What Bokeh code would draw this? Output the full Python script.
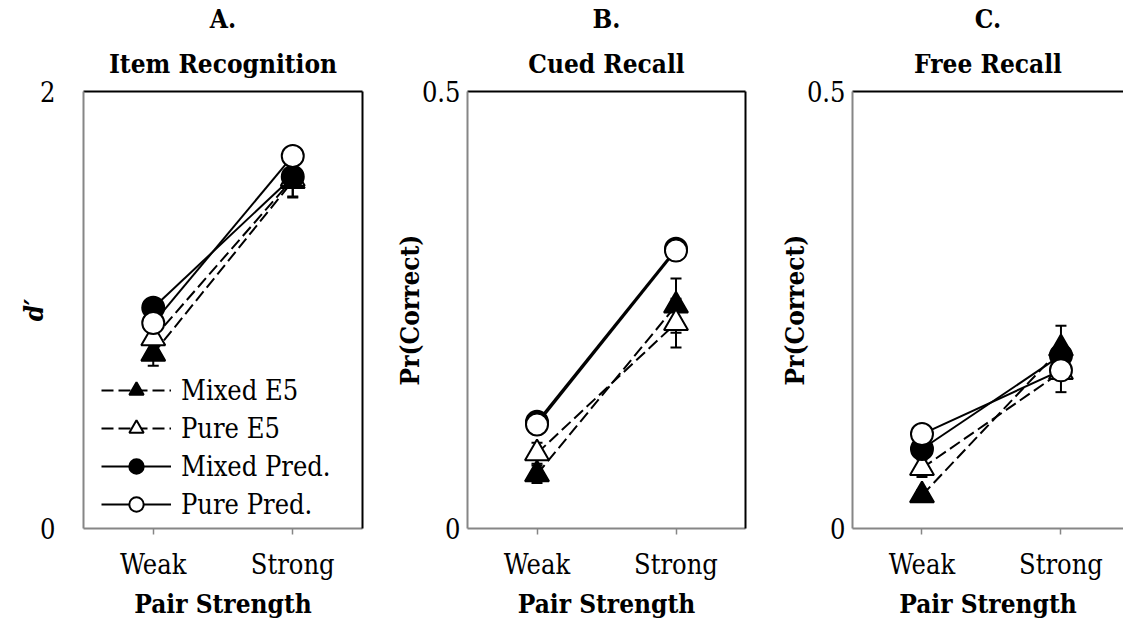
from bokeh.plotting import figure
from bokeh.models import Range1d, FixedTicker, LinearAxis, Legend, LegendItem, Title
from bokeh.layouts import row
from bokeh.embed import file_html
from bokeh.resources import INLINE

categories = ["Weak", "Strong"]
x_pos = [1, 2]

# Panel A: Item Recognition (d')
a_mixed_e5 = [0.80, 1.59]
a_mixed_e5_err = [0.055, 0.075]
a_pure_e5 = [0.87, 1.60]
a_pure_e5_err = [0.05, 0.08]
a_mixed_pred = [1.01, 1.61]
a_pure_pred = [0.94, 1.705]

# Panel B: Cued Recall
b_mixed_e5 = [0.062, 0.255]
b_mixed_e5_err = [0.010, 0.031]
b_pure_e5 = [0.086, 0.235]
b_pure_e5_err = [0.012, 0.028]
b_mixed_pred = [0.122, 0.320]
b_pure_pred = [0.119, 0.318]

# Panel C: Free Recall
c_mixed_e5 = [0.038, 0.206]
c_mixed_e5_err = [0.006, 0.026]
c_pure_e5 = [0.069, 0.179]
c_pure_e5_err = [0.010, 0.023]
c_mixed_pred = [0.091, 0.198]
c_pure_pred = [0.108, 0.181]

series_names = ["Mixed E5", "Pure E5", "Mixed Pred.", "Pure Pred."]

FONT = "DejaVu Serif Condensed"
FS = "27px"
FSB = "26px"
GRAY = "#868686"


def make_panel(letter, name, ylabel, ylabel_style, ymax, ytick_labels, data, errs,
               width, left, right, x_end, right_border, with_legend,
               ylab_standoff, ylabel_standoff, title_offset=0):
    p = figure(width=width, height=626, x_range=Range1d(0.5, x_end), y_range=Range1d(0, ymax),
               output_backend="svg", toolbar_location=None,
               min_border_left=left, min_border_right=right,
               min_border_top=91, min_border_bottom=98)
    p.outline_line_color = None
    p.xgrid.visible = False
    p.ygrid.visible = False

    xa = p.below[0]
    xa.ticker = FixedTicker(ticks=x_pos)
    xa.major_label_overrides = {x: c for x, c in zip(x_pos, categories)}
    xa.axis_line_color = GRAY
    xa.axis_line_width = 2
    xa.major_tick_line_color = GRAY
    xa.major_tick_line_width = 1.5
    xa.major_tick_in = 0
    xa.major_tick_out = 6
    xa.minor_tick_line_color = None
    xa.major_label_standoff = 14
    xa.major_label_text_font = FONT
    xa.major_label_text_font_size = FS
    xa.major_label_text_color = "black"
    xa.axis_label = "Pair Strength"
    xa.axis_label_text_font = FONT
    xa.axis_label_text_font_size = FSB
    xa.axis_label_text_font_style = "bold"
    xa.axis_label_text_color = "black"
    xa.axis_label_standoff = 6

    ya = p.left[0]
    ya.ticker = FixedTicker(ticks=[0, ymax])
    ya.major_label_overrides = {0: ytick_labels[0], ymax: ytick_labels[1]}
    ya.axis_line_color = GRAY
    ya.axis_line_width = 2
    ya.major_tick_line_color = None
    ya.minor_tick_line_color = None
    ya.major_tick_in = 0
    ya.major_tick_out = 0
    ya.major_label_standoff = ylab_standoff
    ya.major_label_text_font = FONT
    ya.major_label_text_font_size = FS
    ya.major_label_text_color = "black"
    ya.axis_label = ylabel
    ya.axis_label_text_font = FONT
    ya.axis_label_text_font_size = FSB
    ya.axis_label_text_font_style = ylabel_style
    ya.axis_label_text_color = "black"
    ya.axis_label_standoff = ylabel_standoff

    top = LinearAxis(ticker=FixedTicker(ticks=[]), axis_line_color="black", axis_line_width=2,
                     major_tick_line_color=None, minor_tick_line_color=None,
                     major_label_text_font_size="0px", major_tick_out=0, major_tick_in=0,
                     major_label_standoff=0)
    p.add_layout(top, "above")
    if right_border:
        rt = LinearAxis(ticker=FixedTicker(ticks=[]), axis_line_color="black", axis_line_width=2,
                        major_tick_line_color=None, minor_tick_line_color=None,
                        major_label_text_font_size="0px", major_tick_out=0, major_tick_in=0,
                        major_label_standoff=0)
        p.add_layout(rt, "right")

    p.add_layout(Title(text=name, align="center", text_font=FONT, text_font_size=FSB,
                       text_font_style="bold", text_color="black", offset=title_offset,
                       standoff=26), "above")
    p.add_layout(Title(text=letter, align="center", text_font=FONT, text_font_size=FSB,
                       text_font_style="bold", text_color="black", offset=title_offset,
                       standoff=0), "above")

    dashes = ["12 5", "12 5", "solid", "solid"]
    markers = ["triangle", "triangle", "circle", "circle"]
    fills = ["black", "white", "black", "white"]
    msize = [24, 24, 22, 22]

    lines = []
    for vals, dash in zip(data, dashes):
        lines.append(p.line(x_pos, vals, line_color="black", line_width=2, line_dash=dash))

    marks = []
    for i, vals in enumerate(data):
        if errs[i] is not None:
            lo = [v - e for v, e in zip(vals, errs[i])]
            hi = [v + e for v, e in zip(vals, errs[i])]
            p.segment(x0=x_pos, y0=lo, x1=x_pos, y1=hi, line_color="black", line_width=2)
            p.scatter(x_pos, lo, marker="dash", size=11, line_color="black", line_width=2)
            p.scatter(x_pos, hi, marker="dash", size=11, line_color="black", line_width=2)
        marks.append(p.scatter(x_pos, vals, marker=markers[i], size=msize[i], fill_color=fills[i],
                               line_color="black", line_width=2))

    if with_legend:
        items = [LegendItem(label=n, renderers=[l, m]) for n, l, m in zip(series_names, lines, marks)]
        legend = Legend(items=items, location=(18, 6), glyph_width=70, glyph_height=36,
                        label_height=36, label_standoff=10, spacing=2, padding=0, margin=0,
                        label_text_font=FONT, label_text_font_size=FS, label_text_color="black",
                        background_fill_alpha=0, border_line_color=None)
        p.add_layout(legend)
    return p


pa = make_panel("A.", "Item Recognition", "d\u2032", "bold italic", 2, ["0", "2"],
                [a_mixed_e5, a_pure_e5, a_mixed_pred, a_pure_pred],
                [a_mixed_e5_err, a_pure_e5_err, None, None],
                width=383, left=83, right=21, x_end=2.5, right_border=True, with_legend=True,
                ylab_standoff=28, ylabel_standoff=-12)
pb = make_panel("B.", "Cued Recall", "Pr(Correct)", "bold", 0.5, ["0", "0.5"],
                [b_mixed_e5, b_pure_e5, b_mixed_pred, b_pure_pred],
                [b_mixed_e5_err, b_pure_e5_err, None, None],
                width=384, left=84, right=22, x_end=2.5, right_border=True, with_legend=False,
                ylab_standoff=7, ylabel_standoff=-6)
pc = make_panel("C.", "Free Recall", "Pr(Correct)", "bold", 0.5, ["0", "0.5"],
                [c_mixed_e5, c_pure_e5, c_mixed_pred, c_pure_pred],
                [c_mixed_e5_err, c_pure_e5_err, None, None],
                width=356, left=85, right=0, x_end=2.45, right_border=False, with_legend=False,
                ylab_standoff=7, ylabel_standoff=-6, title_offset=3)

layout = row(pa, pb, pc, spacing=0)
open("out.html", "w").write(file_html(layout, INLINE))
